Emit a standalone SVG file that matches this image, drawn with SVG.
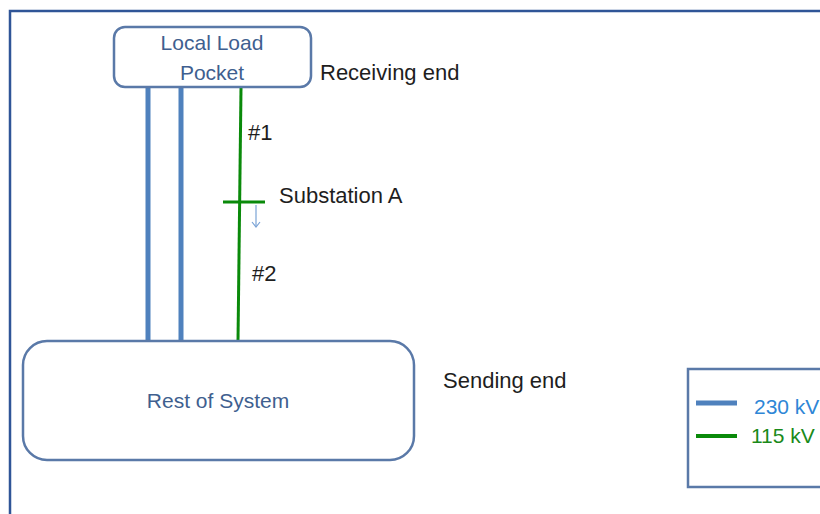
<svg xmlns="http://www.w3.org/2000/svg" width="820" height="514" viewBox="0 0 820 514">
<defs>
<style>
.box{fill:#fff;stroke:#5a79a8;stroke-width:2.5}
.btxt{font-family:"Liberation Sans",Arial,sans-serif;font-size:21px;fill:#3f5f8f}
.lbl{font-family:"Liberation Sans",Arial,sans-serif;font-size:22px;fill:#1e1e1e}
.l230{stroke:#4f81bd;stroke-width:5}
.l115{stroke:#0a8a0a;stroke-width:3}
</style>
<marker id="ah" markerWidth="10" markerHeight="10" refX="8" refY="5" orient="auto" markerUnits="userSpaceOnUse">
<path d="M3,1 L8,5 L3,9" fill="none" stroke="#7aa3d6" stroke-width="1.2"/>
</marker>
</defs>
<rect width="820" height="514" fill="#fff"/>
<g id="frame">
<path d="M10,514 V11 H820" fill="none" stroke="#2f5597" stroke-width="2.5"/>
</g>
<g id="connectors">
<line class="l230" x1="148" y1="87" x2="148" y2="341"/>
<line class="l230" x1="181" y1="87" x2="181" y2="341"/>
<line class="l115" x1="241" y1="88" x2="238" y2="341"/>
<line class="l115" x1="223" y1="202" x2="265" y2="202"/>
<line x1="256" y1="205" x2="256" y2="227" stroke="#7aa3d6" stroke-width="1.2" marker-end="url(#ah)"/>
</g>
<g id="local-load-pocket">
<rect class="box" x="114" y="27" width="197" height="60" rx="11"/>
<text class="btxt" x="212" y="50" text-anchor="middle">Local Load</text>
<text class="btxt" x="212" y="80" text-anchor="middle">Pocket</text>
</g>
<g id="rest-of-system">
<rect class="box" x="23" y="341" width="391" height="119" rx="24"/>
<text class="btxt" x="218" y="408" text-anchor="middle" font-size="21.5">Rest of System</text>
</g>
<g id="labels">
<text class="lbl" x="320" y="80">Receiving end</text>
<text class="lbl" x="248" y="140">#1</text>
<text class="lbl" x="279" y="203">Substation A</text>
<text class="lbl" x="252" y="281">#2</text>
<text class="lbl" x="443" y="388">Sending end</text>
</g>
<g id="legend">
<rect x="688" y="369" width="140" height="118" fill="#fff" stroke="#5a79a8" stroke-width="2.5"/>
<line class="l230" x1="696" y1="403" x2="737" y2="403"/>
<line x1="696" y1="436" x2="737" y2="436" stroke="#0a8a0a" stroke-width="4"/>
<text x="754" y="414" font-family="Liberation Sans,Arial,sans-serif" font-size="21" fill="#2e86d6">230 kV</text>
<text x="751" y="443" font-family="Liberation Sans,Arial,sans-serif" font-size="21" fill="#1a8a1a">115 kV</text>
</g>
</svg>
